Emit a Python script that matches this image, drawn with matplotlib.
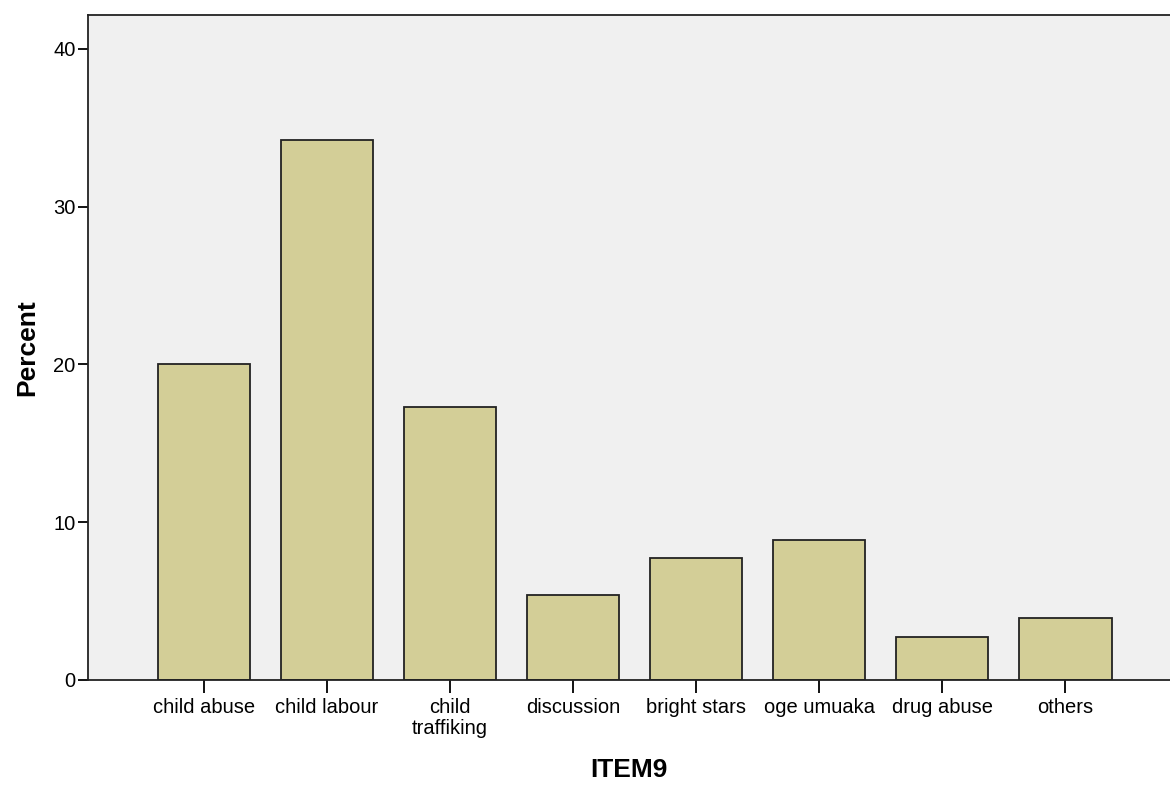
import matplotlib.pyplot as plt
import numpy as np

plt.rcParams['font.family'] = ['Liberation Sans', 'DejaVu Sans']

# ITEM9 categories and percentages
categories = ['child abuse', 'child labour', 'child\ntraffiking', 'discussion',
              'bright stars', 'oge umuaka', 'drug abuse', 'others']
percent = [20.0, 34.2, 17.3, 5.4, 7.7, 8.9, 2.7, 3.9]
y_ticks = [0, 10, 20, 30, 40]

fig = plt.figure(figsize=(11.7, 7.87), dpi=100)
ax = fig.add_axes([0.0752, 0.136, 0.9248, 0.845])
ax.set_facecolor('#F0F0F0')

x = np.arange(len(categories))
ax.bar(x, percent, width=0.75, color='#D3CE97', edgecolor='#222222', linewidth=1.3, zorder=2)

ax.set_xlim(-0.94, 7.85)
ax.set_ylim(0, 42.15)
ax.set_xticks(x)
ax.set_xticklabels(categories, fontsize=14.5, linespacing=1.1)
ax.set_yticks(y_ticks)
ax.tick_params(axis='x', length=9, width=1.3, pad=4)
ax.tick_params(axis='y', length=7, width=1.3, labelsize=14.5, pad=2)

for s in ['left', 'bottom', 'top']:
    ax.spines[s].set_linewidth(1.3)
    ax.spines[s].set_color('#222222')
ax.spines['right'].set_visible(False)

ax.set_ylabel('Percent', fontsize=19, fontweight='bold', labelpad=10)
ax.set_xlabel('ITEM9', fontsize=19, fontweight='bold', labelpad=15)

fig.savefig('out.png', dpi=100)
